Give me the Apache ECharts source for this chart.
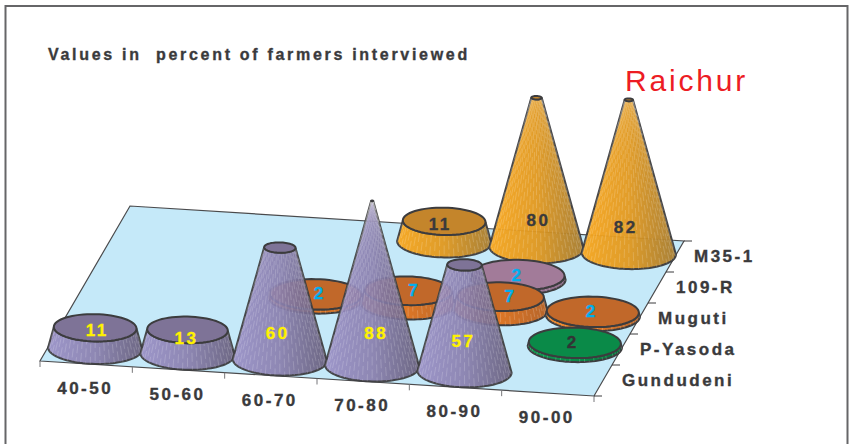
<!DOCTYPE html>
<html>
<head>
<meta charset="utf-8">
<title>Raichur</title>
<style>
  html, body { margin: 0; padding: 0; background: #fff; }
  #chart { width: 849px; height: 444px; }
  /* tracked-out lettering for every text element, wider for the big place name */
  svg text { letter-spacing: 2.5px; white-space: pre; }
  svg text[style*="30px"] { letter-spacing: 2.8px; }
  svg text[style*="16px"] { letter-spacing: 2.7px; }
</style>
<script src="https://cdn.jsdelivr.net/npm/echarts@6/dist/echarts.min.js"></script>
</head>
<body>
<div id="chart"></div>
<script>
// Yield classes along the front edge, varieties from front to back
const yieldClasses = ['40-50', '50-60', '60-70', '70-80', '80-90', '90-00'];
const varieties = ['Gundudeni', 'P-Yasoda', 'Muguti', '109-R', 'M35-1'];

// Percent of farmers interviewed, one list per variety
const gundudeni = [11, 13, 60, 88, 57, null];
const pYasoda = [null, null, null, null, null, 2];
const muguti = [null, null, 2, 7, 7, 2];
const r109 = [null, null, null, null, 2, null];
const m35 = [null, null, null, 11, 80, 82];

const titleText = 'Values in  percent of farmers interviewed';
const placeText = 'Raichur';

const valuesByVariety = [gundudeni, pYasoda, muguti, r109, m35];

// Appearance per variety
const looks = [
  { cap: '#7E7397', side: ['#9A90C6', '#8A80AE', '#665D7A'], text: '#FFF200', opacity: 0.93 },
  { cap: '#0A8A48', side: ['#0E9A50', '#0A8A48', '#07713A'], text: '#333335', opacity: 1 },
  { cap: '#C1682A', side: ['#F08A2A', '#DC7626', '#B5652B'], text: '#00AEEF', opacity: 1 },
  { cap: '#A27B99', side: ['#B088A8', '#A27B99', '#8A6A86'], text: '#00AEEF', opacity: 1 },
  { cap: '#C4852B', side: ['#F8A61C', '#E0981F', '#A67B2E'], text: '#3A3A3C', opacity: 0.95 }
];

// Small label adjustments relative to the cone they belong to: "col,row": [dx, dy]
const labelNudge = {
  '0,0': [2, 3], '1,0': [-1, 9], '2,0': [-2, 2], '3,0': [4, -3], '4,0': [-1, -1],
  '5,1': [-2, 0], '2,2': [4, -1], '3,2': [6, 0], '4,2': [10, 0], '5,2': [-1, 0],
  '4,3': [-1, 0], '3,4': [-4, 3], '4,4': [2, 2], '5,4': [-3, 3]
};

// Back row first so nearer marks paint over farther ones
const markData = [];
for (let r = varieties.length - 1; r >= 0; r--) {
  valuesByVariety[r].forEach(function (v, c) {
    if (v != null) markData.push([c, r, v]);
  });
}

const SHEAR_X = 90 / 155;   // sideways drift of the floor per pixel of depth
const SHEAR_Y = 35 / 554;   // downward drift of the floor per pixel of width
const FONT = '"Liberation Sans", Arial, sans-serif';
const INK = '#3A3A3C';
const OUTLINE = '#3C3C3E';
const HEAVY = 0.35;         // extra stroke weight on the bold lettering

const chart = echarts.init(document.getElementById('chart'), null, { renderer: 'svg' });

// Floor frame shared by the render functions
function floorFrame(api) {
  const p00 = api.coord([0, 0]);
  const p11 = api.coord([1, 1]);
  const colStep = p11[0] - p00[0];
  const rowStep = p00[1] - p11[1];
  const ox = p00[0] - colStep / 2;
  const oy = p00[1] + rowStep / 2;
  return {
    colStep: colStep,
    rowStep: rowStep,
    ox: ox,
    oy: oy,
    // shears a point of the flat grid onto the slanted floor
    project: function (x, y) {
      return [x + (oy - y) * SHEAR_X, y + (x - ox) * SHEAR_Y];
    }
  };
}

function riseOf(value) {
  return chart.convertToPixel({ yAxisIndex: 1 }, 0) - chart.convertToPixel({ yAxisIndex: 1 }, value);
}

function ringPoint(cx, cy, rx, ry, a) {
  const dx = rx * Math.cos(a);
  return [cx + dx, cy + ry * Math.sin(a) + dx * 0.02];
}

function renderFloor(params, api) {
  const f = floorFrame(api);
  const nc = yieldClasses.length;
  const nr = varieties.length;
  const fl = f.project(f.ox, f.oy);
  const fr = f.project(f.ox + nc * f.colStep, f.oy);
  const br = f.project(f.ox + nc * f.colStep, f.oy - nr * f.rowStep);
  const bl = f.project(f.ox, f.oy - nr * f.rowStep);
  const children = [{
    type: 'polygon',
    shape: { points: [fl, fr, br, bl] },
    style: { fill: '#C5E9F9', stroke: '#4A4A4C', lineWidth: 1.2 }
  }];
  for (let c = 0; c <= nc; c++) {
    const p = f.project(f.ox + c * f.colStep, f.oy);
    children.push({
      type: 'line',
      shape: { x1: p[0], y1: p[1], x2: p[0], y2: p[1] + 6 },
      style: { stroke: '#77777A', lineWidth: 1 }
    });
  }
  for (let r = 0; r <= nr; r++) {
    const p = f.project(f.ox + nc * f.colStep, f.oy - r * f.rowStep);
    children.push({
      type: 'line',
      shape: { x1: p[0], y1: p[1], x2: p[0] + 8, y2: p[1] },
      style: { stroke: '#3A3A3C', lineWidth: 1 }
    });
  }
  yieldClasses.forEach(function (name, c) {
    const p = f.project(f.ox + (c + 0.5) * f.colStep, f.oy);
    children.push({
      type: 'text',
      style: {
        text: name, x: p[0] - 1, y: p[1] + 24.5, fill: INK, stroke: INK, lineWidth: HEAVY,
        font: 'bold 17px ' + FONT, align: 'center', verticalAlign: 'middle'
      }
    });
  });
  varieties.forEach(function (name, r) {
    const p = f.project(f.ox + nc * f.colStep, f.oy - (r + 0.5) * f.rowStep);
    children.push({
      type: 'text',
      style: {
        text: name, x: p[0] + 19, y: p[1], fill: INK, stroke: INK, lineWidth: HEAVY,
        font: 'bold 17px ' + FONT, align: 'left', verticalAlign: 'middle'
      }
    });
  });
  return { type: 'group', children: children };
}

function renderMark(params, api) {
  const f = floorFrame(api);
  const c = api.value(0);
  const r = api.value(1);
  const v = api.value(2);
  const look = looks[r];
  const grid = api.coord([c, r]);
  const base = f.project(grid[0], grid[1]);
  const rise = riseOf(v);
  const peak = riseOf(90);
  const rx = f.colStep * 0.51;
  const ry = rx * 0.33;
  const k = 1 - rise / peak;
  const topX = base[0];
  const topY = base[1] - rise;
  const trx = rx * k;
  const tr = ry * k;

  // side wall: front half of the base ring, then back along the top ring
  const wall = [];
  const STEPS = 48;
  for (let i = 0; i <= STEPS; i++) {
    wall.push(ringPoint(base[0], base[1], rx, ry, Math.PI * (1 - i / STEPS)));
  }
  for (let i = 0; i <= STEPS; i++) {
    wall.push(ringPoint(topX, topY, trx, tr, Math.PI * (i / STEPS)));
  }

  // fine broken rulings running up the wall, each with its own dash phase
  let rulings = '';
  const RULINGS = 30;
  const DASH = 9;
  const GAP = 4;
  for (let i = 1; i < RULINGS; i++) {
    const a = Math.PI * i / RULINGS;
    const p = ringPoint(base[0], base[1], rx, ry, a);
    const q = ringPoint(topX, topY, trx, tr, a);
    const len = Math.hypot(q[0] - p[0], q[1] - p[1]);
    let s = -((i * 5) % (DASH + GAP));
    while (s < len) {
      const t0 = Math.max(s, 0) / len;
      const t1 = Math.min(s + DASH, len) / len;
      if (t1 > t0) {
        rulings += 'M' + (p[0] + (q[0] - p[0]) * t0).toFixed(2) + ' ' + (p[1] + (q[1] - p[1]) * t0).toFixed(2) +
          'L' + (p[0] + (q[0] - p[0]) * t1).toFixed(2) + ' ' + (p[1] + (q[1] - p[1]) * t1).toFixed(2);
      }
      s += DASH + GAP;
    }
  }

  const capRing = [];
  for (let i = 0; i < 64; i++) {
    capRing.push(ringPoint(topX, topY, trx, tr, Math.PI * 2 * i / 64));
  }

  return {
    type: 'group',
    children: [
      {
        type: 'polygon',
        shape: { points: wall },
        style: {
          fill: new echarts.graphic.LinearGradient(0, 0, 1, 0, [
            { offset: 0, color: look.side[0] },
            { offset: 0.5, color: look.side[1] },
            { offset: 1, color: look.side[2] }
          ]),
          stroke: OUTLINE,
          lineWidth: 2,
          opacity: look.opacity
        }
      },
      {
        type: 'path',
        shape: { pathData: rulings },
        style: {
          fill: 'none',
          stroke: 'rgba(255,255,255,0.2)',
          lineWidth: 0.9
        }
      },
      {
        type: 'polygon',
        shape: { points: capRing },
        style: { fill: look.cap, stroke: OUTLINE, lineWidth: 2 }
      }
    ]
  };
}

function renderValueLabel(params, api) {
  const f = floorFrame(api);
  const c = api.value(0);
  const r = api.value(1);
  const v = api.value(2);
  const grid = api.coord([c, r]);
  const base = f.project(grid[0], grid[1]);
  const nudge = labelNudge[c + ',' + r] || [0, 0];
  const lift = Math.min(riseOf(v), 29);
  return {
    type: 'text',
    style: {
      text: String(v),
      x: base[0] + nudge[0],
      y: base[1] - lift + nudge[1],
      fill: looks[r].text,
      stroke: looks[r].text,
      lineWidth: HEAVY,
      font: 'bold 17px ' + FONT,
      align: 'center',
      verticalAlign: 'middle'
    }
  };
}

chart.setOption({
  animation: false,
  backgroundColor: '#ffffff',
  grid: [
    { left: 40, width: 554, top: 206, height: 155, show: false },
    { left: 40, width: 554, top: 100, height: 168.75, show: false }
  ],
  xAxis: [
    { type: 'category', gridIndex: 0, data: yieldClasses, show: false },
    { type: 'category', gridIndex: 1, data: yieldClasses, show: false }
  ],
  yAxis: [
    { type: 'category', gridIndex: 0, data: varieties, show: false },
    { type: 'value', gridIndex: 1, min: 0, max: 90, show: false }
  ],
  graphic: [
    {
      type: 'polyline',
      silent: true,
      shape: { points: [[5.5, 444], [5.5, 6], [847.5, 6], [847.5, 444]] },
      style: { fill: 'none', stroke: '#666668', lineWidth: 2 }
    },
    {
      type: 'text',
      silent: true,
      style: {
        text: titleText, x: 48, y: 54.5, fill: INK, stroke: INK, lineWidth: HEAVY,
        font: 'bold 16px ' + FONT, align: 'left', verticalAlign: 'middle'
      }
    },
    {
      type: 'text',
      silent: true,
      style: {
        text: placeText, x: 625, y: 80, fill: '#ED1C24',
        font: '30px ' + FONT, align: 'left', verticalAlign: 'middle'
      }
    }
  ],
  series: [
    {
      type: 'custom', xAxisIndex: 0, yAxisIndex: 0, silent: true, z: 1,
      renderItem: renderFloor, data: [[0, 0]], encode: { x: 0, y: 1 }
    },
    {
      type: 'custom', xAxisIndex: 0, yAxisIndex: 0, silent: true, z: 2,
      renderItem: renderMark, data: markData, encode: { x: 0, y: 1 }
    },
    {
      type: 'custom', xAxisIndex: 0, yAxisIndex: 0, silent: true, z: 3,
      renderItem: renderValueLabel, data: markData, encode: { x: 0, y: 1 }
    }
  ]
});
</script>
</body>
</html>
